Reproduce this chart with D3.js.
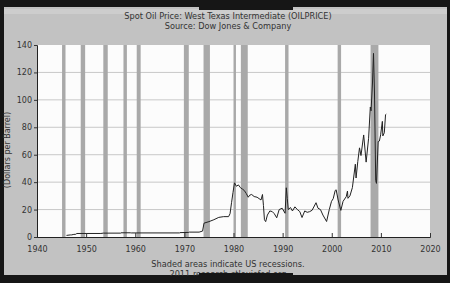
<!DOCTYPE html>
<html>
<head>
<meta charset="utf-8"/>
<title>Spot Oil Price</title>
<script src="https://d3js.org/d3.v7.min.js"></script>
<style>
body{margin:0;background:#161616;}
svg text{font-family:"DejaVu Sans",sans-serif;fill:#333;}
</style>
</head>
<body>
<div id="chart"></div>
<script>
// monthly-ish WTI spot price
var years = [1946.0,1946.8,1947.0,1947.5,1947.9,1948.1,1953.0,1953.5,1957.0,1957.1,1959.0,1959.2,1969.0,1969.1,1970.9,1971.0,1973.0,1973.7,1974.0,1975.0,1976.0,1977.0,1978.0,1979.0,1979.3,1979.6,1979.9,1980.2,1980.6,1981.0,1981.4,1981.8,1982.2,1982.6,1983.0,1983.3,1983.7,1984.2,1984.8,1985.2,1985.6,1985.9,1986.1,1986.3,1986.55,1986.9,1987.4,1987.9,1988.3,1988.8,1989.3,1989.9,1990.5,1990.75,1990.95,1991.15,1991.6,1992.0,1992.5,1993.0,1993.5,1993.95,1994.5,1995.0,1995.5,1996.0,1996.8,1997.2,1997.7,1998.2,1998.95,1999.5,1999.95,2000.3,2000.7,2000.9,2001.3,2001.85,2002.3,2002.95,2003.2,2003.3,2003.7,2004.2,2004.8,2004.95,2005.3,2005.65,2005.95,2006.5,2007.0,2007.5,2007.85,2008.0,2008.3,2008.5,2008.7,2008.95,2009.1,2009.45,2009.7,2009.95,2010.3,2010.4,2010.7,2010.95,2011.1];
var prices = [1.17,1.52,1.52,1.9,2.0,2.57,2.57,2.82,2.82,3.07,3.07,2.97,2.97,3.18,3.35,3.56,3.56,4.31,10.1,11.2,12.6,14.3,14.85,14.85,17,25,32.5,39.5,37,38,36,35,33.9,31.7,29,30.5,31,29.5,29,28,27,31,22.9,12.6,11.2,16,19,18.5,17,14,20,21,17.3,35.9,28,20,21.5,19,22,20,18.5,14.2,19,18,18.5,19.5,25,21,20,16,11.3,20,26,28,33.9,34.4,27,19.4,26,29.4,33.5,28.2,30,36,53.1,43,55,65,59.4,74.4,54.6,72,94.8,92,113,133.9,105,41.1,39.1,69.6,70,74.5,84.3,73.7,76,89.2,89.6];
// recessions (start, end) as decimal years
var recStart = [1945.1,1948.9,1953.5,1957.6,1960.3,1969.9,1973.9,1980.0,1981.5,1990.5,2001.2,2007.9];
var recEnd = [1945.8,1949.8,1954.4,1958.3,1961.1,1970.9,1975.2,1980.5,1982.9,1991.2,2001.9,2009.5];
var xTicks = [1940,1950,1960,1970,1980,1990,2000,2010,2020];
var yTicks = [0,20,40,60,80,100,120,140];

var width = 450, height = 283;
var svg = d3.select('#chart').append('svg')
	.attr('width', width)
	.attr('height', height);

// photo frame
svg.append('rect').attr('width', width).attr('height', height).attr('fill', '#161616');
svg.append('rect').attr('x', 4).attr('y', 7).attr('width', 443).attr('height', 268).attr('fill', '#c2c2c2');
svg.append('rect').attr('x', 4).attr('y', 9).attr('width', 443).attr('height', 5).attr('fill', '#cdcdcd');

var x = d3.scaleLinear().domain([1940, 2020]).range([37, 430]);
var y = d3.scaleLinear().domain([0, 140]).range([237, 45]);

svg.append('rect')
	.attr('x', x(1940)).attr('y', y(140))
	.attr('width', x(2020) - x(1940)).attr('height', y(0) - y(140))
	.attr('fill', '#fcfcfc');

// grid
svg.append('g').selectAll('line').data(yTicks.slice(1, -1)).enter().append('line')
	.attr('x1', x(1940)).attr('x2', x(2020))
	.attr('y1', function(d){ return y(d); }).attr('y2', function(d){ return y(d); })
	.attr('stroke', '#c8c8c8').attr('stroke-width', 1);

// recession bars
svg.append('g').selectAll('rect').data(recStart).enter().append('rect')
	.attr('x', function(d){ return x(d); })
	.attr('width', function(d, i){ return x(recEnd[i]) - x(d); })
	.attr('y', y(140)).attr('height', y(0) - y(140))
	.attr('fill', '#a9a9a9');

// price line
var line = d3.line()
	.x(function(d, i){ return x(years[i]); })
	.y(function(d){ return y(d); });
svg.append('path').datum(prices)
	.attr('d', line)
	.attr('fill', 'none')
	.attr('stroke', '#222')
	.attr('stroke-width', 1);

// axes
var xAxis = d3.axisBottom(x).tickValues(xTicks).tickFormat(d3.format('d')).tickSize(-4).tickPadding(9);
svg.append('g').attr('transform', 'translate(0,' + y(0) + ')').call(xAxis);
var yAxis = d3.axisLeft(y).tickValues(yTicks).tickSize(3).tickPadding(2);
svg.append('g').attr('transform', 'translate(' + x(1940) + ',0)').call(yAxis);
svg.selectAll('.domain').attr('stroke', '#222');
svg.selectAll('.tick line').attr('stroke', '#333');
svg.selectAll('.tick text').attr('font-size', 8).attr('fill', '#333');

// titles
svg.append('text').attr('x', 228).attr('y', 19).attr('text-anchor', 'middle').attr('font-size', 8.2)
	.text('Spot Oil Price: West Texas Intermediate (OILPRICE)');
svg.append('text').attr('x', 228).attr('y', 29).attr('text-anchor', 'middle').attr('font-size', 8.2)
	.text('Source: Dow Jones & Company');
svg.append('text').attr('transform', 'translate(10,150) rotate(-90)').attr('text-anchor', 'middle').attr('font-size', 8)
	.text('(Dollars per Barrel)');
svg.append('text').attr('x', 228).attr('y', 267).attr('text-anchor', 'middle').attr('font-size', 8.2)
	.text('Shaded areas indicate US recessions.');
svg.append('text').attr('x', 228).attr('y', 277).attr('text-anchor', 'middle').attr('font-size', 8.2)
	.text('2011 research.stlouisfed.org');

// frame tabs
svg.append('rect').attr('x', 0).attr('y', 276).attr('width', width).attr('height', 7).attr('fill', '#161616');
svg.append('rect').attr('x', 199).attr('y', 0).attr('width', 94).attr('height', 10).attr('fill', '#161616');
svg.append('rect').attr('x', 199).attr('y', 273).attr('width', 94).attr('height', 10).attr('fill', '#161616');
</script>
</body>
</html>
